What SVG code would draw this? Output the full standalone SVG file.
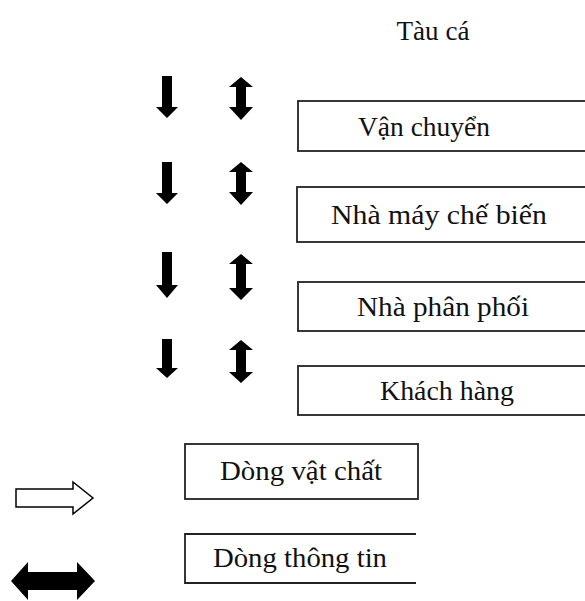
<svg xmlns="http://www.w3.org/2000/svg" width="585" height="601" viewBox="0 0 585 601">
<style>
.box{fill:#fff;stroke:#222;stroke-width:1.8}
.t{font-family:"Liberation Serif","Times New Roman","DejaVu Serif",serif;font-size:27px;fill:#111;text-anchor:middle}
.solid{fill:#000}
.open{fill:#fff;stroke:#000;stroke-width:1.5}
</style>
<rect width="585" height="601" fill="#fff"/>
<g id="tau-ca"><text class="t" x="433" y="40" textLength="73" lengthAdjust="spacingAndGlyphs">Tàu cá</text></g>
<g id="van-chuyen"><rect class="box" x="298" y="101" width="300" height="50"/><text class="t" x="424" y="136" textLength="132" lengthAdjust="spacingAndGlyphs">Vận chuyển</text></g>
<g id="nha-may"><rect class="box" x="297" y="187" width="300" height="55"/><text class="t" x="439" y="224" textLength="216" lengthAdjust="spacingAndGlyphs">Nhà máy chế biến</text></g>
<g id="nha-phan-phoi"><rect class="box" x="298" y="282" width="300" height="49"/><text class="t" x="443" y="316" textLength="172" lengthAdjust="spacingAndGlyphs">Nhà phân phối</text></g>
<g id="khach-hang"><rect class="box" x="298" y="366" width="300" height="49"/><text class="t" x="447" y="400" textLength="134" lengthAdjust="spacingAndGlyphs">Khách hàng</text></g>
<g id="dong-vat-chat"><rect class="box" x="185" y="444" width="233" height="55"/><text class="t" x="301" y="480" textLength="162" lengthAdjust="spacingAndGlyphs">Dòng vật chất</text></g>
<g id="dong-thong-tin"><path d="M416,534 H185 V583 H416" fill="none" stroke="#222" stroke-width="1.8"/><text class="t" x="300" y="567" textLength="174" lengthAdjust="spacingAndGlyphs">Dòng thông tin</text></g>
<g id="connectors">
<polygon class="solid" points="162,76 172,76 172,107 178,107 167,118 156,107 162,107"/>
<polygon class="solid" points="162,162 172,162 172,193 178,193 167,204 156,193 162,193"/>
<polygon class="solid" points="162,252 172,252 172,285 178,285 167,298 156,285 162,285"/>
<polygon class="solid" points="162,339 172,339 172,368 178,368 167,378 156,368 162,368"/>
<polygon class="solid" points="241,77 253,87 246,87 246,107 253,107 241,120 229,107 236,107 236,87 229,87"/>
<polygon class="solid" points="241,162 253,172 246,172 246,192 253,192 241,205 229,192 236,192 236,172 229,172"/>
<polygon class="solid" points="241,254 253,264 246,264 246,288 253,288 241,300 229,288 236,288 236,264 229,264"/>
<polygon class="solid" points="241,340 253,350 246,350 246,372 253,372 241,383 229,372 236,372 236,350 229,350"/>
<polygon class="open" points="16,489 73,489 73,482 93,498 73,514 73,507 16,507"/>
<polygon class="solid" points="11,581 28,562 28,572 77,572 77,562 95,581 77,600 77,590 28,590 28,600"/>
</g>
</svg>
